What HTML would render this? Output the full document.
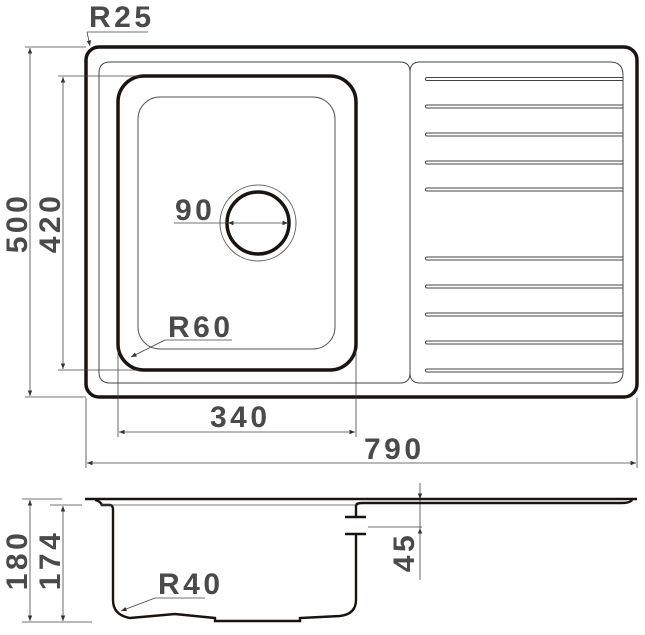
<!DOCTYPE html>
<html><head><meta charset="utf-8"><style>
html,body{margin:0;padding:0;background:#fff;}
svg{display:block}
text{font-family:"Liberation Sans",sans-serif;font-weight:bold;fill:#4a4a4a;font-size:30px;letter-spacing:3.5px}
</style></head><body>
<svg width="645" height="635" viewBox="0 0 645 635" xmlns="http://www.w3.org/2000/svg">
<defs>
<marker id="a" viewBox="0 0 10 10" refX="10" refY="5" markerWidth="7" markerHeight="7" orient="auto-start-reverse"><path d="M0,1 L10,5 L0,9 z" fill="#333"/></marker>
</defs>
<g fill="none">
<rect x="86" y="47" width="551" height="350" rx="13" stroke="#1a1410" stroke-width="3.5"/>
<path d="M110,62 H400 Q410,62 410,72 V373 Q410,383 400,383 H110 Q99,383 99,372 V73 Q99,62 110,62 Z" stroke="#444" stroke-width="1"/>
<path d="M410,72 Q410,62 420,62 H610 Q623,62 623,75 V372 Q623,383 612,383 H420 Q410,383 410,373" stroke="#444" stroke-width="1"/>
<rect x="118" y="76" width="238" height="294" rx="26" stroke="#1a1410" stroke-width="3.5"/>
<rect x="138" y="97" width="197" height="252" rx="22" stroke="#555" stroke-width="1"/>
<circle cx="258" cy="223" r="38" stroke="#666" stroke-width="1"/>
<circle cx="258" cy="223" r="31" stroke="#1a1410" stroke-width="3.5"/>
<g stroke="#444" stroke-width="1">
<path d="M623,77.5 H427 a1.5,1.5 0 0 0 0,3 H623"/>
<path d="M623,105 H427 a1.5,1.5 0 0 0 0,3 H623"/>
<path d="M623,133 H427 a1.5,1.5 0 0 0 0,3 H623"/>
<path d="M623,161 H427 a1.5,1.5 0 0 0 0,3 H623"/>
<path d="M623,188 H427 a1.5,1.5 0 0 0 0,3 H623"/>
<path d="M623,257 H427 a1.5,1.5 0 0 0 0,3 H623"/>
<path d="M623,285 H427 a1.5,1.5 0 0 0 0,3 H623"/>
<path d="M623,313 H427 a1.5,1.5 0 0 0 0,3 H623"/>
<path d="M623,341 H427 a1.5,1.5 0 0 0 0,3 H623"/>
<path d="M623,369 H427 a1.5,1.5 0 0 0 0,3 H623"/>
</g>
<g stroke="#444" stroke-width="0.8">
<line x1="25" y1="47" x2="86" y2="47"/>
<line x1="25" y1="397" x2="86" y2="397"/>
<line x1="30" y1="48" x2="30" y2="396" marker-start="url(#a)" marker-end="url(#a)"/>
<line x1="58" y1="76" x2="140" y2="76"/>
<line x1="58" y1="370" x2="140" y2="370"/>
<line x1="63" y1="77" x2="63" y2="369" marker-start="url(#a)" marker-end="url(#a)"/>
<line x1="87" y1="32" x2="148" y2="32"/>
<line x1="87" y1="32" x2="90" y2="46" marker-end="url(#a)"/>
<line x1="174" y1="223" x2="230" y2="223"/>
<line x1="228" y1="223" x2="288" y2="223" marker-start="url(#a)" marker-end="url(#a)"/>
<line x1="165" y1="340" x2="232" y2="340"/>
<line x1="165" y1="340" x2="131" y2="357" marker-end="url(#a)"/>
<line x1="118" y1="350" x2="118" y2="437"/>
<line x1="356" y1="350" x2="356" y2="437"/>
<line x1="119" y1="432" x2="355" y2="432" marker-start="url(#a)" marker-end="url(#a)"/>
<line x1="86" y1="398" x2="86" y2="468"/>
<line x1="637" y1="398" x2="637" y2="468"/>
<line x1="87" y1="463" x2="636" y2="463" marker-start="url(#a)" marker-end="url(#a)"/>
<line x1="22" y1="499" x2="62" y2="499"/>
<line x1="22" y1="622" x2="92" y2="622"/>
<line x1="30" y1="500" x2="30" y2="621" marker-start="url(#a)" marker-end="url(#a)"/>
<line x1="50" y1="505" x2="82" y2="505"/>
<line x1="63" y1="506" x2="63" y2="621" marker-start="url(#a)" marker-end="url(#a)"/>
<line x1="420" y1="483" x2="420" y2="499" marker-end="url(#a)"/>
<line x1="420" y1="545" x2="420" y2="528" marker-end="url(#a)"/>
<line x1="420" y1="499" x2="420" y2="528"/>
<line x1="420" y1="545" x2="420" y2="580"/>
<line x1="368" y1="527" x2="422" y2="527"/>
<line x1="155" y1="598" x2="205" y2="598"/>
<line x1="155" y1="598" x2="121" y2="611" marker-end="url(#a)"/>
</g>
<g stroke="#1a1410" stroke-width="2.4">
<line x1="85" y1="499" x2="637" y2="499"/>
<path d="M95,500 Q100,501 102,505 L110,505 Q113,505 113,510 V600 Q113,615 130,618 L175,614 L215,618 V621 H300 L300,618 L340,616 Q356,614 356,600 V534"/>
<path d="M356,517 V506 Q356,503 362,503 L622,503 Q630,503 632,500"/>
<line x1="345" y1="517" x2="366" y2="517"/>
<line x1="345" y1="534" x2="366" y2="534"/>
</g>
<line x1="100" y1="505" x2="356" y2="505" stroke="#555" stroke-width="0.8"/>
</g>
<text x="89" y="27">R25</text>
<text x="175" y="220">90</text>
<text x="168" y="337">R60</text>
<text x="210" y="427">340</text>
<text x="364" y="459">790</text>
<text x="158" y="594">R40</text>
<text transform="translate(27,223) rotate(-90)" text-anchor="middle">500</text>
<text transform="translate(60,223) rotate(-90)" text-anchor="middle">420</text>
<text transform="translate(27,560) rotate(-90)" text-anchor="middle">180</text>
<text transform="translate(60,560) rotate(-90)" text-anchor="middle">174</text>
<text transform="translate(414,552) rotate(-90)" text-anchor="middle">45</text>
</svg>
</body></html>
